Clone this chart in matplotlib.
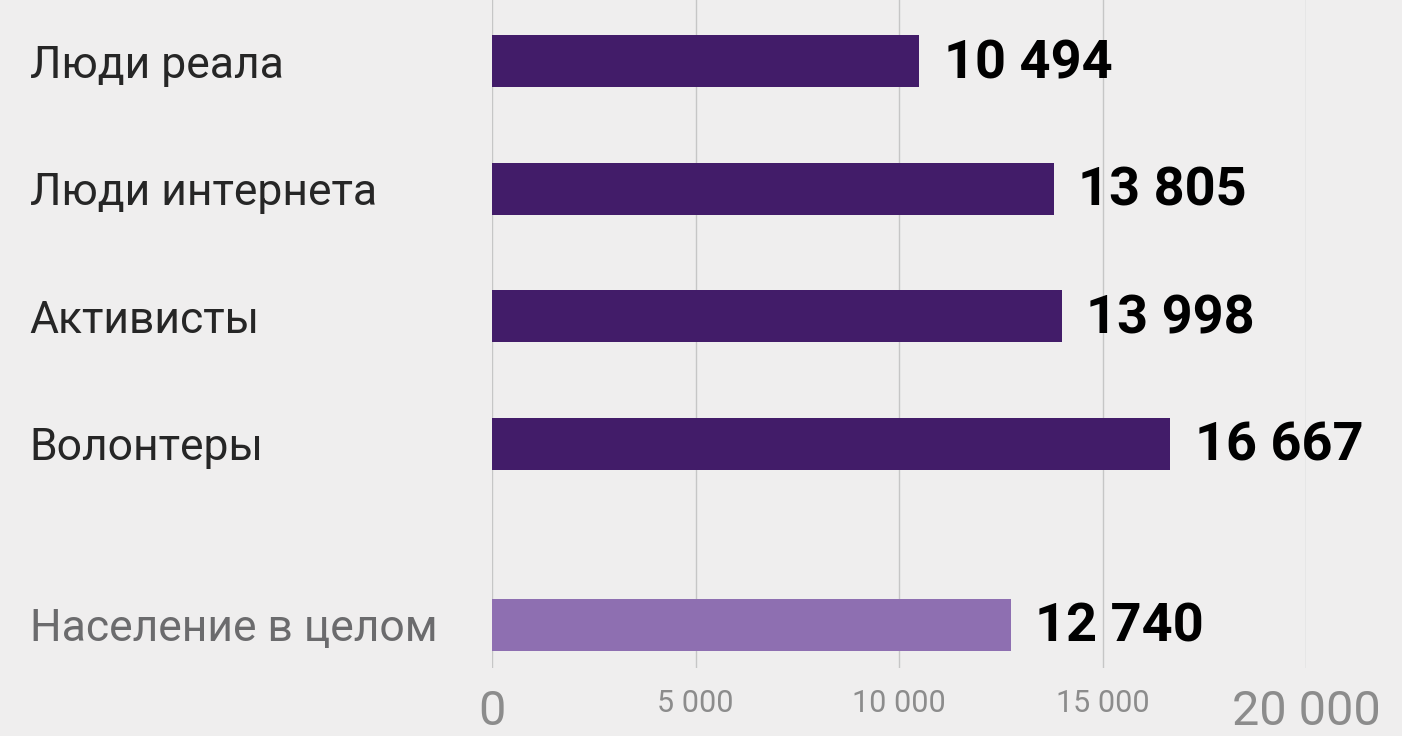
import numpy as np
import matplotlib.pyplot as plt

# categories and values (from the chart)
categories = ['Люди реала', 'Люди интернета', 'Активисты', 'Волонтеры', 'Население в целом']
values = [10494, 13805, 13998, 16667, 12740]
value_labels = ['10 494', '13 805', '13 998', '16 667', '12 740']
tick_values = [0, 5000, 10000, 15000, 20000]
tick_labels = ['0', '5 000', '10 000', '15 000', '20 000']

bg = '#efeeee'
dark = '#421c69'
light = '#8e6fb1'

fig = plt.figure(figsize=(14.02, 7.36), dpi=100, facecolor=bg)
ax = fig.add_axes([492/1402, 1 - 668/736, 814/1402, 668/736])
ax.set_facecolor(bg)

ypos = np.array([0, 1, 2, 3, 4.42])
colors = [dark]*4 + [light]
ax.barh(ypos, values, height=0.41, color=colors, zorder=3)

fam = ['Roboto', 'DejaVu Sans']
for y, v, lab in zip(ypos, values, value_labels):
    ax.text(v + 600, y + 0.02, lab, va='center', ha='left', fontsize=39, fontweight='bold',
            family=fam, color='black')

ax.set_xlim(0, 20000)
ax.set_ylim(4.76, -0.48)
ax.set_xticks(tick_values)
ax.set_xticklabels(tick_labels)
ax.set_yticks(ypos)
ax.set_yticklabels(categories)
ax.tick_params(length=0)
ax.tick_params(axis='x', pad=15)
ax.tick_params(axis='y', pad=333)
for spine in ax.spines.values():
    spine.set_visible(False)
ax.grid(axis='x', color='#c6c6c6', lw=1, zorder=0)

for i, t in enumerate(ax.get_xticklabels()):
    t.set_family(fam)
    t.set_color('#8c8c8c')
    if i in (0, len(tick_values) - 1):
        t.set_fontsize(35)
    else:
        t.set_fontsize(22)
for i, t in enumerate(ax.get_yticklabels()):
    t.set_family(fam)
    t.set_fontsize(32)
    t.set_ha('left')
    t.set_color('#6b6b6d' if i == len(categories) - 1 else '#262626')

fig.savefig('out.png', dpi=100, facecolor=bg)
